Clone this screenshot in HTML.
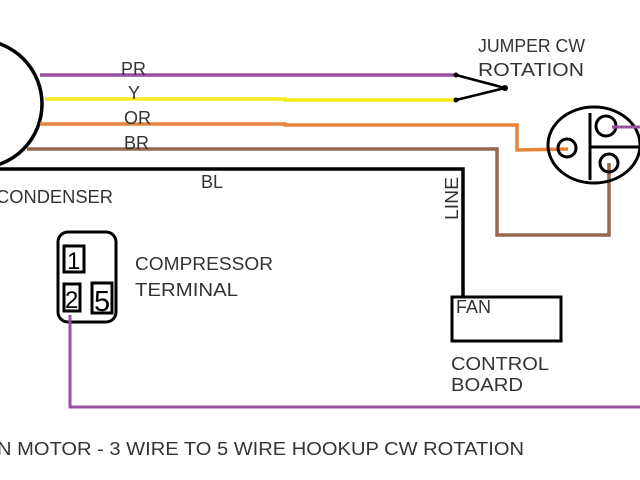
<!DOCTYPE html>
<html><head><style>body{margin:0;background:#fff}svg{display:block}text{font-family:"Liberation Sans",sans-serif;fill:#333;font-size:18px}</style></head><body>
<svg width="640" height="480" viewBox="0 0 640 480">
<circle cx="-22" cy="104" r="64" fill="none" stroke="#000" stroke-width="3.5"/>
<polyline points="40,75 455,75" stroke="#9a4fa0" stroke-width="3.5" fill="none"/>
<polyline points="45,99 285,99 285,100 455,100" stroke="#f5ec1c" stroke-width="3.5" fill="none"/>
<polyline points="40,124 285,124 285,125 517,125 517,150 568,149" stroke="#e8843a" stroke-width="3.5" fill="none"/>
<polyline points="27,149 497,149 497,235 609,235 609,163" stroke="#94694f" stroke-width="3.5" fill="none"/>
<polyline points="0,169 463,169 463,296" stroke="#000" stroke-width="3.5" fill="none"/>
<polyline points="456,75 505,88 456,100" stroke="#000" stroke-width="2.5" fill="none"/>
<circle cx="456" cy="75" r="2.5"/><circle cx="456" cy="100" r="2.5"/><circle cx="505" cy="88" r="3"/>
<ellipse cx="594" cy="145" rx="46" ry="38" fill="none" stroke="#000" stroke-width="3"/>
<line x1="590" y1="113" x2="590" y2="180" stroke="#000" stroke-width="3"/>
<line x1="590" y1="147" x2="640" y2="147" stroke="#000" stroke-width="3"/>
<circle cx="567" cy="148" r="9" fill="none" stroke="#000" stroke-width="3"/>
<circle cx="606" cy="126" r="10" fill="none" stroke="#000" stroke-width="3"/>
<circle cx="609" cy="163" r="9" fill="none" stroke="#000" stroke-width="3"/>
<line x1="612" y1="127" x2="640" y2="127" stroke="#9a4fa0" stroke-width="3"/>
<rect x="452" y="297" width="109" height="44" fill="none" stroke="#000" stroke-width="3"/>
<rect x="58" y="232" width="58" height="90" rx="10" fill="none" stroke="#000" stroke-width="3"/>
<rect x="64" y="246" width="20" height="26" fill="none" stroke="#000" stroke-width="3"/>
<rect x="64" y="284" width="16" height="27" fill="none" stroke="#000" stroke-width="3"/>
<rect x="92" y="283" width="20" height="30" fill="none" stroke="#000" stroke-width="3"/>
<text x="67" y="269" style="font-size:24px;fill:#000">1</text>
<text x="65" y="308" style="font-size:24px;fill:#000">2</text>
<text x="94" y="311" style="font-size:29px;fill:#000">5</text>
<polyline points="70,315 70,407 640,407" stroke="#9a4fa0" stroke-width="3" fill="none"/>
<text x="121" y="75">PR</text>
<text x="128" y="99">Y</text>
<text x="124" y="124">OR</text>
<text x="124" y="149">BR</text>
<text x="201" y="188">BL</text>
<text x="-4" y="203" textLength="117" lengthAdjust="spacingAndGlyphs">CONDENSER</text>
<text x="478" y="52" textLength="107" lengthAdjust="spacingAndGlyphs">JUMPER CW</text>
<text x="478" y="76" textLength="106" lengthAdjust="spacingAndGlyphs">ROTATION</text>
<text transform="translate(458,220) rotate(-90)" textLength="43" lengthAdjust="spacingAndGlyphs">LINE</text>
<text x="135" y="270" textLength="138" lengthAdjust="spacingAndGlyphs">COMPRESSOR</text>
<text x="135" y="296" textLength="103" lengthAdjust="spacingAndGlyphs">TERMINAL</text>
<text x="456" y="313">FAN</text>
<text x="451" y="370" textLength="98" lengthAdjust="spacingAndGlyphs">CONTROL</text>
<text x="451" y="391" textLength="72" lengthAdjust="spacingAndGlyphs">BOARD</text>
<text x="-3" y="455" textLength="527" lengthAdjust="spacingAndGlyphs">N MOTOR - 3 WIRE TO 5 WIRE HOOKUP CW ROTATION</text>
</svg>
</body></html>
